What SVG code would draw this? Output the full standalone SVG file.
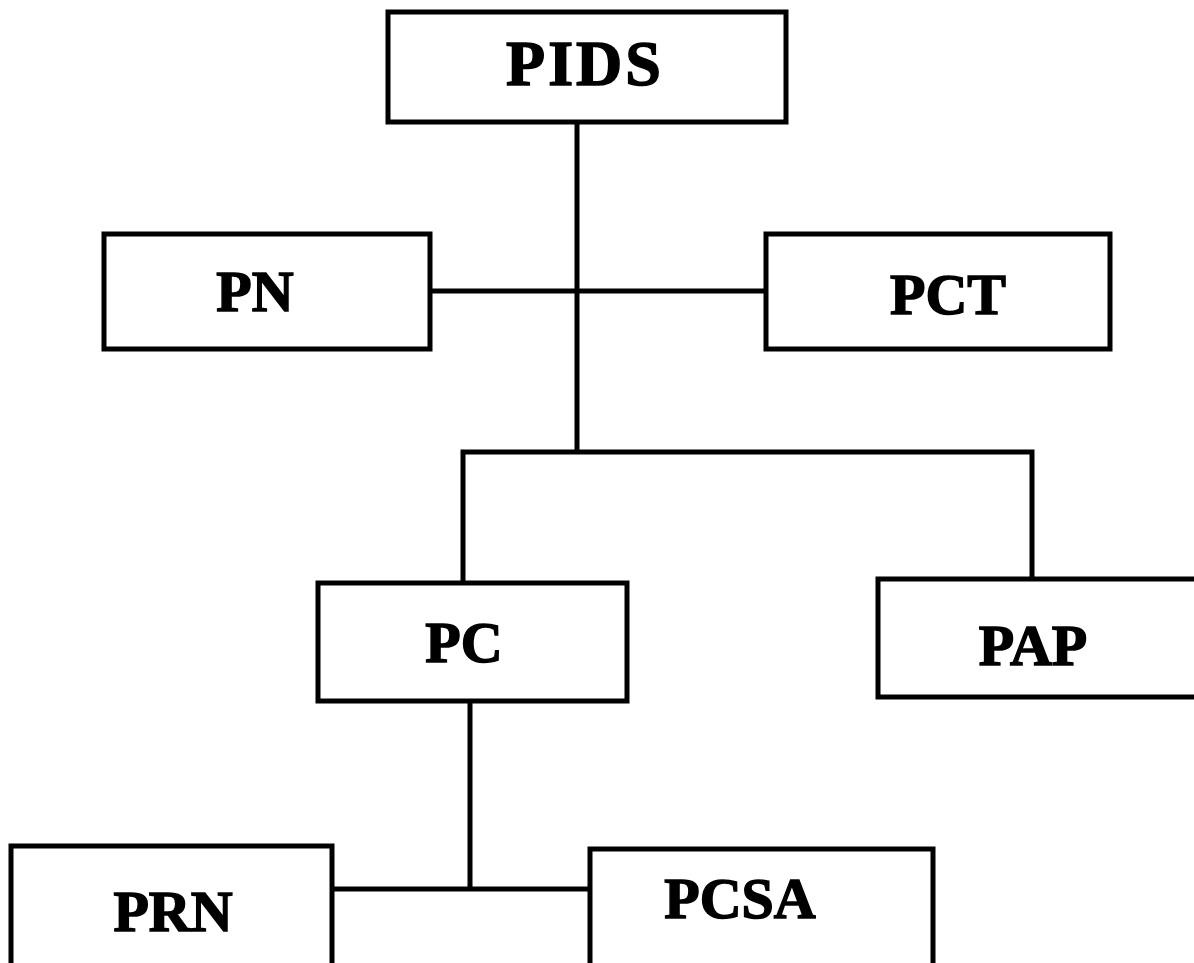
<svg xmlns="http://www.w3.org/2000/svg" width="1194" height="963" viewBox="0 0 1194 963">
<style>
.box{fill:#fff;stroke:#000;stroke-width:5}
.lbl{font-family:"Liberation Serif","DejaVu Serif",serif;font-weight:bold;font-size:58px;fill:#000;stroke:#000;stroke-width:1.5;text-anchor:middle}
.ln{stroke:#000;stroke-width:5;fill:none;stroke-linejoin:miter}
</style>
<rect width="1194" height="963" fill="#fff"/>
<g id="connectors">
<line class="ln" x1="577" y1="122" x2="577" y2="452"/>
<line class="ln" x1="430" y1="291" x2="765" y2="291"/>
<path class="ln" d="M463 582 V452 H1032 V578"/>
<line class="ln" x1="470" y1="702" x2="470" y2="889"/>
<line class="ln" x1="332" y1="889" x2="590" y2="889"/>
</g>
<g id="PIDS"><rect class="box" x="388" y="12" width="398" height="110"/><text class="lbl" x="585" y="85" style="font-size:64px;letter-spacing:3px">PIDS</text></g>
<g id="PN"><rect class="box" x="104" y="234" width="326" height="115"/><text class="lbl" x="255" y="311">PN</text></g>
<g id="PCT"><rect class="box" x="766" y="234" width="344" height="115"/><text class="lbl" x="948" y="314">PCT</text></g>
<g id="PC"><rect class="box" x="318" y="583" width="309" height="118"/><text class="lbl" x="464" y="662">PC</text></g>
<g id="PAP"><rect class="box" x="878" y="579" width="320" height="118"/><text class="lbl" x="1033" y="665">PAP</text></g>
<g id="PRN"><rect class="box" x="11" y="846" width="321" height="125"/><text class="lbl" x="173" y="931">PRN</text></g>
<g id="PCSA"><rect class="box" x="590" y="849" width="343" height="125"/><text class="lbl" x="740" y="918">PCSA</text></g>
</svg>
